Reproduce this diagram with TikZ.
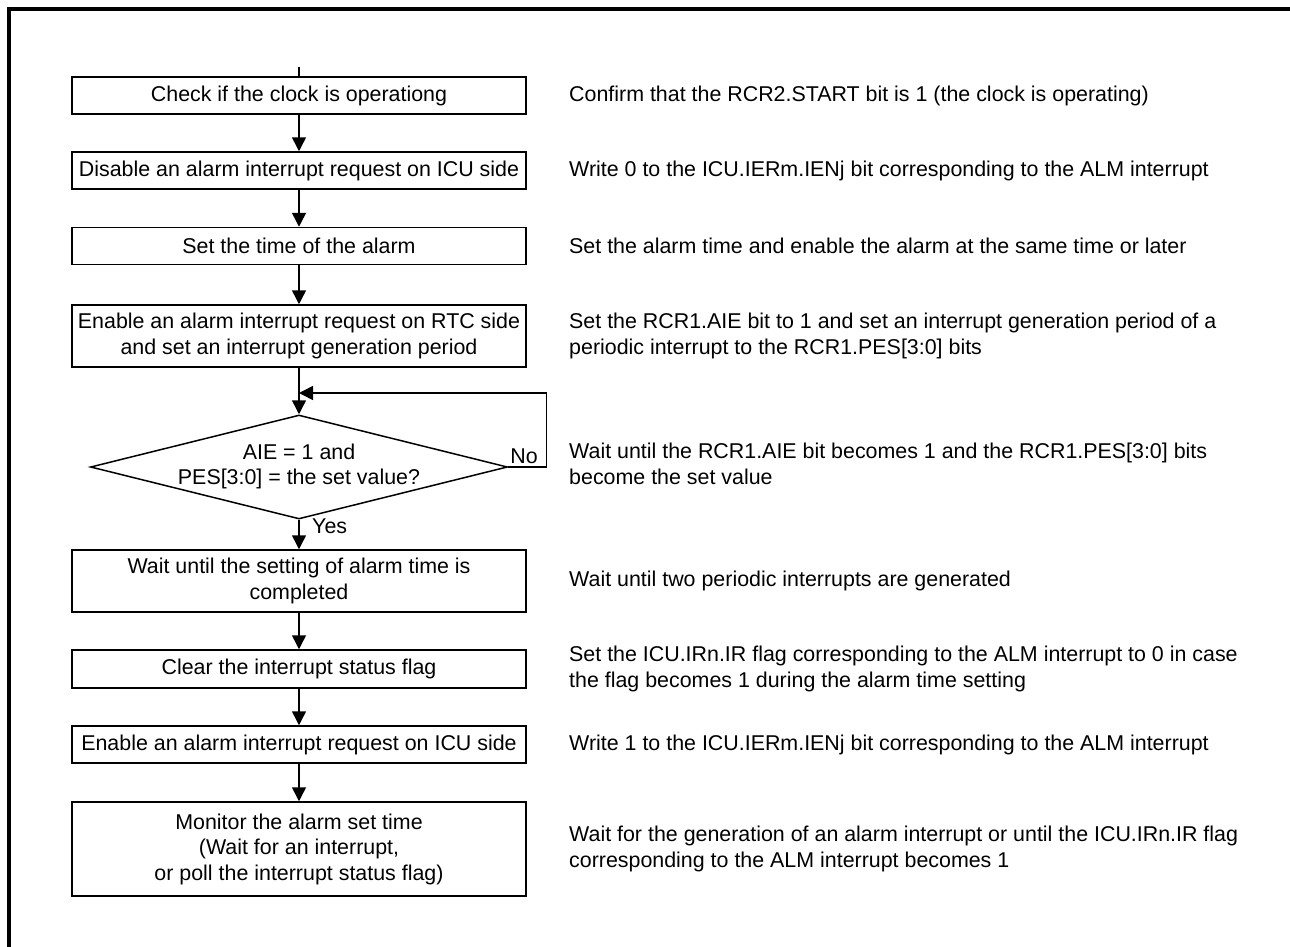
\documentclass[tikz,border=0pt]{standalone}
\usepackage{fontspec}
\setmainfont{Liberation Sans}
\usetikzlibrary{shapes.geometric,arrows.meta}
\begin{document}
\begin{tikzpicture}[x=1bp,y=-1bp,
  every node/.style={font=\fontsize{21.4bp}{25.5bp}\selectfont},
  stepbox/.style={draw,line width=1.5bp,minimum width=454bp,minimum height=37bp,inner sep=0pt,align=center},
  decision/.style={draw,diamond,line width=1.5bp,minimum width=417bp,minimum height=104bp,inner sep=0pt,aspect=4},
  note/.style={anchor=west,align=left,inner sep=0pt},
  flow/.style={line width=1.5bp,-{Triangle[length=14bp,width=14bp]}}]
\useasboundingbox (0,0) rectangle (1290,947);
\draw[line width=3.5bp] (9,960) |- (1300,9);
\coordinate (T) at (299,67);
\node[stepbox] (S1) at (299,95.5) {Check if the clock is operationg};
\node[stepbox] (S2) at (299,170.5) {Disable an alarm interrupt request on ICU side};
\node[stepbox] (S3) at (299,246) {Set the time of the alarm};
\node[stepbox,minimum height=62bp] (S4) at (299,336) {Enable an alarm interrupt request on RTC side\\and set an interrupt generation period};
\node[decision] (D) at (299,467) {\makebox[0pt]{\begin{tabular}{@{}c@{}}AIE = 1 and\\PES[3:0] = the set value?\end{tabular}}};
\node[stepbox,minimum height=62bp] (S5) at (299,581) {Wait until the setting of alarm time is\\completed};
\node[stepbox,minimum height=38bp] (S6) at (299,669) {Clear the interrupt status flag};
\node[stepbox] (S7) at (299,744.5) {Enable an alarm interrupt request on ICU side};
\node[stepbox,minimum height=94bp] (S8) at (299,849) {Monitor the alarm set time\\(Wait for an interrupt,\\or poll the interrupt status flag)};
\coordinate (L) at (299,393);
\node[anchor=base,inner sep=0pt] (No) at (524,463) {No};
\node[anchor=base west,inner sep=0pt] (Yes) at (312,533) {Yes};
\draw[line width=1.5bp] (T) -- (S1);
\draw[flow] (S1) -- (S2);
\draw[flow] (S2) -- (S3);
\draw[flow] (S3) -- (S4);
\draw[flow] (S4) -- (D.north);
\draw[flow] (D.east) -- ++(38,0) |- (L);
\draw[flow] (D.south) -- (S5);
\draw[flow] (S5) -- (S6);
\draw[flow] (S6) -- (S7);
\draw[flow] (S7) -- (S8);
\node[note] (N1) at (569,95.5) {Confirm that the RCR2.START bit is 1 (the clock is operating)};
\node[note] (N2) at (569,170.5) {Write 0 to the ICU.IERm.IENj bit corresponding to the ALM interrupt};
\node[note] (N3) at (569,246) {Set the alarm time and enable the alarm at the same time or later};
\node[note] (N4) at (569,336) {Set the RCR1.AIE bit to 1 and set an interrupt generation period of a\\periodic interrupt to the RCR1.PES[3:0] bits};
\node[note] (N5) at (569,464) {Wait until the RCR1.AIE bit becomes 1 and the RCR1.PES[3:0] bits\\become the set value};
\node[note] (N6) at (569,581) {Wait until two periodic interrupts are generated};
\node[note] (N7) at (569,669) {Set the ICU.IRn.IR flag corresponding to the ALM interrupt to 0 in case\\the flag becomes 1 during the alarm time setting};
\node[note] (N8) at (569,744.5) {Write 1 to the ICU.IERm.IENj bit corresponding to the ALM interrupt};
\node[note] (N9) at (569,849) {Wait for the generation of an alarm interrupt or until the ICU.IRn.IR flag\\corresponding to the ALM interrupt becomes 1};
\end{tikzpicture}
\end{document}
